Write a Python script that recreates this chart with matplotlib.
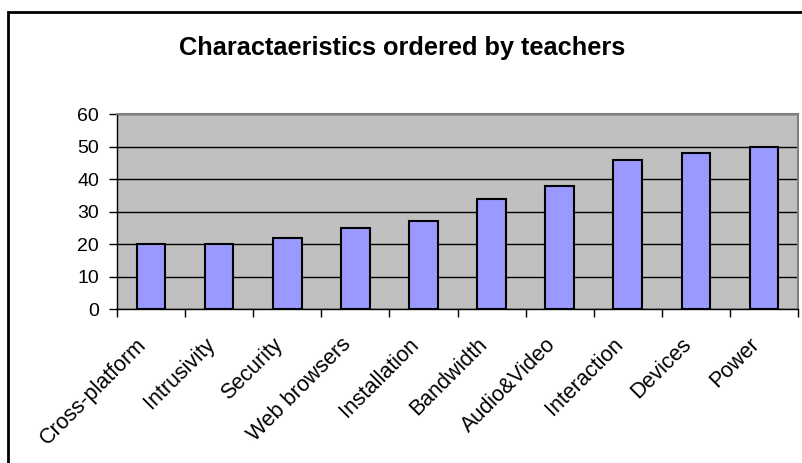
import matplotlib
matplotlib.use("Agg")
import matplotlib.pyplot as plt
from matplotlib.patches import Rectangle
from matplotlib.transforms import ScaledTranslation

categories = ["Cross-platform", "Intrusivity", "Security", "Web browsers", "Installation",
              "Bandwidth", "Audio&Video", "Interaction", "Devices", "Power"]
values = [20, 20, 22, 25, 27, 34, 38, 46, 48, 50]
yticks = [0, 10, 20, 30, 40, 50, 60]
title = "Charactaeristics ordered by teachers"

plt.rcParams['font.family'] = ['Liberation Sans', 'DejaVu Sans']

W, H = 803, 463
fig = plt.figure(figsize=(W / 100, H / 100), dpi=100)
fig.patch.set_facecolor('white')

L, R, T, B = 117, 798, 114, 309
ax = fig.add_axes([L / W, 1 - B / H, (R - L) / W, (B - T) / H])
ax.set_facecolor('#C0C0C0')

x = list(range(len(categories)))
ax.bar(x, values, width=0.42, color='#9999FF', edgecolor='black', linewidth=1.5, zorder=3)

ax.set_xlim(-0.5, len(categories) - 0.5)
ax.set_ylim(0, 60)
ax.set_yticks(yticks)
ax.set_yticklabels([str(v) for v in yticks], fontsize=14)
ax.yaxis.grid(True, color='black', linewidth=1, zorder=1)
ax.set_axisbelow(True)

# x ticks at category boundaries
ax.set_xticks([i - 0.5 for i in range(len(categories) + 1)], minor=False)
ax.set_xticklabels([])
ax.tick_params(axis='x', which='major', direction='out', length=6, width=1, color='black')
ax.set_xticks(x, minor=True)
ax.set_xticklabels(categories, minor=True, rotation=45, ha='right', va='top', fontsize=15.5)
ax.tick_params(axis='x', which='minor', length=0, pad=18)
off = ScaledTranslation(0 / 100, 0, fig.dpi_scale_trans)
for lab in ax.get_xticklabels(minor=True):
    lab.set_transform(lab.get_transform() + off)

ax.tick_params(axis='y', direction='out', length=6, width=1, color='black', pad=7)

for s in ['left', 'bottom']:
    ax.spines[s].set_color('black')
    ax.spines[s].set_linewidth(1)
for s in ['top', 'right']:
    ax.spines[s].set_color('#808080')
    ax.spines[s].set_linewidth(1.5)

fig.text(402 / W, 1 - 54.5 / H, title, ha='center', va='baseline', fontsize=18.3, fontweight='bold')

# outer chart border (cropped at right and bottom)
fig.patches.append(Rectangle((8 / W, -0.1), 1.5, 1 - 12 / H + 0.1, transform=fig.transFigure,
                             fill=False, edgecolor='black', linewidth=2))

fig.savefig('out.png', dpi=100)
